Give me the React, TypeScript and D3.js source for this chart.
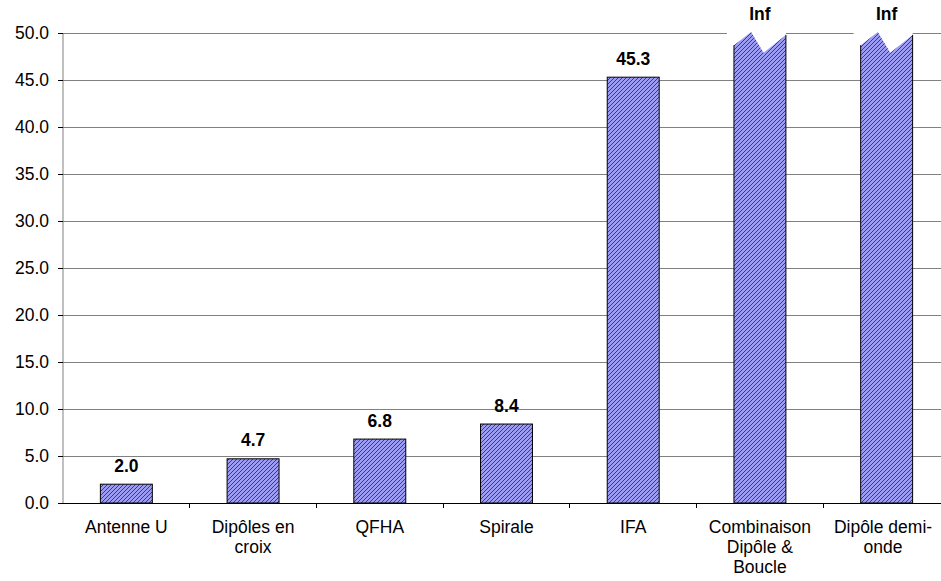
import { useEffect, useRef } from 'react';
import * as d3 from 'd3';

const categories = [
  ['Antenne U'],
  ['Dipôles en', 'croix'],
  ['QFHA'],
  ['Spirale'],
  ['IFA'],
  ['Combinaison', 'Dipôle &', 'Boucle'],
  ['Dipôle demi-', 'onde'],
];
// null = infinite (drawn as broken bar)
const values: (number | null)[] = [2.0, 4.7, 6.8, 8.4, 45.3, null, null];
const yTicks = [0, 5, 10, 15, 20, 25, 30, 35, 40, 45, 50];

export default function App() {
  const svgRef = useRef<SVGSVGElement>(null);

  useEffect(() => {
    document.body.style.margin = '0';
    if (!svgRef.current) return;
    d3.select(svgRef.current).selectAll('*').remove();

    const W = 941;
    const H = 581;
    // plot area runs slightly past the right edge of the picture
    const margin = { top: 33, right: -9, bottom: 78, left: 63 };
    const font = 'Arial, "Liberation Sans", sans-serif';
    const fs = '17.5px';

    const svg = d3
      .select(svgRef.current)
      .attr('width', W)
      .attr('height', H)
      .style('overflow', 'hidden');

    // Hatch pattern
    const defs = svg.append('defs');
    const pat = defs
      .append('pattern')
      .attr('id', 'hatch')
      .attr('patternUnits', 'userSpaceOnUse')
      .attr('width', 4)
      .attr('height', 4);
    pat.append('rect').attr('width', 4).attr('height', 4).attr('fill', '#9c9cf4');
    pat
      .append('path')
      .attr('d', 'M-1,5 L5,-1 M-1,1 L1,-1 M3,5 L5,3')
      .attr('stroke', '#3a3a8a')
      .attr('stroke-width', 1);

    const x = d3
      .scaleBand<number>()
      .domain(d3.range(categories.length))
      .range([margin.left, W - margin.right]);

    const y = d3
      .scaleLinear()
      .domain([0, 50])
      .range([H - margin.bottom, margin.top]);

    const barW = x.step() * 0.41;

    // Grid lines
    svg
      .append('g')
      .selectAll('line')
      .data(yTicks.filter((t) => t > 0))
      .enter()
      .append('line')
      .attr('x1', margin.left)
      .attr('x2', W - margin.right)
      .attr('y1', (d) => y(d))
      .attr('y2', (d) => y(d))
      .attr('stroke', '#808080')
      .attr('stroke-width', 1)
      .attr('shape-rendering', 'crispEdges');

    // Y axis
    const yAxis = svg
      .append('g')
      .attr('transform', `translate(${margin.left},0)`)
      .call(
        d3
          .axisLeft(y)
          .tickValues(yTicks)
          .tickSize(5)
          .tickPadding(9)
          .tickFormat((d) => d3.format('.1f')(d as number))
      );
    yAxis.select('.domain').attr('stroke', '#808080').attr('d', `M0,${y(0)}V${y(50)}`);
    yAxis.selectAll('.tick line').attr('stroke', '#000');
    yAxis
      .selectAll('text')
      .style('font-family', font)
      .style('font-size', fs)
      .attr('fill', '#000');

    // X axis
    const xAxis = svg
      .append('g')
      .attr('transform', `translate(0,${y(0)})`);
    xAxis
      .append('line')
      .attr('x1', margin.left - 5)
      .attr('x2', W - margin.right)
      .attr('stroke', '#000')
      .attr('shape-rendering', 'crispEdges');
    xAxis
      .selectAll('line.tk')
      .data(d3.range(1, categories.length))
      .enter()
      .append('line')
      .attr('class', 'tk')
      .attr('x1', (i) => x(i)!)
      .attr('x2', (i) => x(i)!)
      .attr('y1', 0)
      .attr('y2', 5)
      .attr('stroke', '#000')
      .attr('shape-rendering', 'crispEdges');

    const catText = svg
      .append('g')
      .selectAll('text')
      .data(categories)
      .enter()
      .append('text')
      .attr('text-anchor', 'middle')
      .style('font-family', font)
      .style('font-size', fs)
      .attr('fill', '#000');
    catText.each(function (lines, i) {
      const t = d3.select(this);
      // keep the last label inside the picture
      const cx = Math.min(x(i)! + x.bandwidth() / 2, W - 58);
      lines.forEach((ln, j) => {
        t.append('tspan')
          .attr('x', cx)
          .attr('y', y(0) + 30 + j * 20)
          .text(ln);
      });
    });

    const bars = svg.append('g');
    values.forEach((v, i) => {
      const x0 = x(i)! + (x.bandwidth() - barW) / 2;
      if (v !== null) {
        bars
          .append('rect')
          .attr('x', x0)
          .attr('y', y(v))
          .attr('width', barW)
          .attr('height', y(0) - y(v))
          .attr('fill', 'url(#hatch)')
          .attr('stroke', '#000')
          .attr('stroke-width', 1);
        bars
          .append('text')
          .attr('x', x0 + barW / 2)
          .attr('y', y(v) - 12.5)
          .attr('text-anchor', 'middle')
          .style('font-family', font)
          .style('font-size', fs)
          .style('font-weight', 'bold')
          .text(d3.format('.1f')(v));
      } else {
        // white gap behind the break
        bars
          .append('rect')
          .attr('x', x0 - 7)
          .attr('y', y(50.3))
          .attr('width', barW + 7)
          .attr('height', y(49.5) - y(50.3))
          .attr('fill', '#fff');
        const pts: [number, number][] = [
          [x0, y(0)],
          [x0, y(48.7)],
          [x0 + barW * 0.33, y(50.1)],
          [x0 + barW * 0.57, y(47.9)],
          [x0 + barW, y(49.8)],
          [x0 + barW, y(0)],
        ];
        bars
          .append('path')
          .attr('d', d3.line()(pts) + 'Z')
          .attr('fill', 'url(#hatch)');
        bars
          .append('path')
          .attr('d', `M${x0},${y(48.7)}V${y(0)}H${x0 + barW}V${y(49.8)}`)
          .attr('fill', 'none')
          .attr('stroke', '#000')
          .attr('stroke-width', 1);
        bars
          .append('text')
          .attr('x', x0 + barW / 2)
          .attr('y', y(50) - 13)
          .attr('text-anchor', 'middle')
          .style('font-family', font)
          .style('font-size', fs)
          .style('font-weight', 'bold')
          .text('Inf');
      }
    });
  }, []);

  return <svg ref={svgRef} style={{ display: 'block', background: '#fff' }}></svg>;
}
